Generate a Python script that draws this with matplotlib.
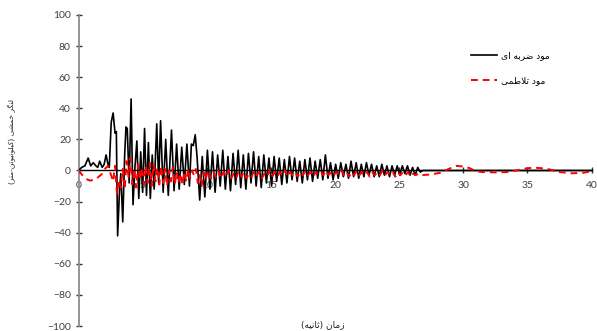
import matplotlib
matplotlib.use("Agg")
import matplotlib.pyplot as plt
import numpy as np

# ---------------- data ----------------
black_t = [0.0, 0.25, 0.5, 0.75, 0.95, 1.15, 1.35, 1.5, 1.65, 1.85, 2.0, 2.15, 2.3, 2.4,
           2.55, 2.7, 2.85, 2.95, 3.05, 3.2, 3.3, 3.45, 3.6, 3.7, 3.8, 3.95, 4.1, 4.25,
           4.4, 4.55, 4.7, 4.85, 5.0, 5.15, 5.3, 5.45, 5.6, 5.75, 5.9, 6.1, 6.25, 6.4,
           6.6, 6.8, 7.0, 7.25, 7.45, 7.65, 7.85, 8.05, 8.25, 8.45, 8.65, 8.8, 8.95, 9.1,
           9.25, 9.45, 9.65, 9.85, 10.05, 10.25, 10.45, 10.65, 10.85, 11.05, 11.25, 11.45,
           11.65, 11.85, 12.05, 12.25, 12.45, 12.65, 12.85, 13.05, 13.25, 13.45, 13.65,
           13.85, 14.05, 14.25, 14.45, 14.65, 14.85, 15.05, 15.25, 15.45, 15.65, 15.85,
           16.05, 16.25, 16.45, 16.65, 16.85, 17.05, 17.25, 17.45, 17.65, 17.85, 18.05,
           18.25, 18.45, 18.65, 18.85, 19.05, 19.25, 19.45, 19.65, 19.85, 20.05, 20.25,
           20.45, 20.65, 20.85, 21.05, 21.25, 21.45, 21.65, 21.85, 22.05, 22.25, 22.45,
           22.65, 22.85, 23.05, 23.25, 23.45, 23.65, 23.85, 24.05, 24.25, 24.45, 24.65,
           24.85, 25.05, 25.25, 25.45, 25.65, 25.85, 26.05, 26.25, 26.45, 26.65, 26.85,
           40.0]
black_v = [0, 2, 3, 8, 3, 5, 3, 2, 6, 2, 4, 10, 4, 2,
           31, 37, 24, 25, -42, -12, -2, -33, 10, 28, 27, -8, 46, -22,
           2, 19, -18, 12, -14, 27, -16, 18, -18, 10, -12, 30, -8, 32,
           -14, 20, -16, 26, -13, 17, -12, 15, -9, 17, -10, 17, 16, 23,
           8, -19, 9, -17, 13, -12, 12, -14, 10, -10, 13, -12,
           9, -13, 11, -9, 13, -11, 10, -12, 11, -8, 12,
           -10, 9, -11, 10, -8, 8, -10, 9, -7, 8, -9,
           7, -8, 9, -6, 8, -7, 6, -8, 7, -6, 8,
           -7, 6, -5, 7, -6, 10, -5, 5, -6, 4, -5,
           5, -4, 4, -5, 6, -4, 5, -5, 4, -4, 5,
           -3, 4, -4, 3, -4, 4, -3, 3, -4, 3, -3,
           3, -3, 3, -2, 3, -3, 2, -3, 2, -1, 0,
           0]

red_t = [0.0, 0.3, 0.6, 0.9, 1.2, 1.5, 1.8, 2.05, 2.3, 2.5, 2.7, 2.85, 3.0, 3.15, 3.3,
         3.45, 3.6, 3.75, 3.9, 4.05, 4.2, 4.35, 4.5, 4.65, 4.8, 4.95, 5.1, 5.25, 5.4,
         5.55, 5.7, 5.85, 6.0, 6.15, 6.3, 6.45, 6.6, 6.75, 6.9, 7.05, 7.2, 7.35, 7.5,
         7.65, 7.8, 7.95, 8.1, 8.25, 8.4, 8.55, 8.7, 8.85, 9.0, 9.15, 9.3, 9.45, 9.6,
         9.75, 9.9, 10.1, 10.3, 10.5, 10.7, 10.9, 11.1, 11.3, 11.5, 11.7, 11.9, 12.1,
         12.3, 12.5, 12.7, 12.9, 13.1, 13.3, 13.5, 13.7, 13.9, 14.1, 14.3, 14.5, 14.7,
         14.9, 15.1, 15.3, 15.5, 15.7, 15.9, 16.1, 16.3, 16.5, 16.7, 16.9, 17.1, 17.3,
         17.5, 17.7, 17.9, 18.1, 18.3, 18.5, 18.7, 18.9, 19.1, 19.3, 19.5, 19.7, 19.9,
         20.1, 20.3, 20.5, 20.7, 20.9, 21.1, 21.3, 21.5, 21.7, 21.9, 22.1, 22.3, 22.5,
         22.7, 22.9, 23.1, 23.3, 23.5, 23.7, 23.9, 24.1, 24.3, 24.5, 24.7, 24.9, 25.1,
         25.3, 25.5, 25.7, 25.9, 26.1, 26.3, 26.5, 26.8, 27.5, 28.2, 29.0, 29.5, 30.0,
         30.5, 31.0, 31.5, 32.5, 33.5, 34.3, 35.0, 35.6, 36.5, 37.5, 38.5, 39.3, 40.0]
red_v = [0, -3, -5.5, -6.5, -6, -4.5, -2.5, 1, 3, -2, -7, 3, -15, -6, -11,
         1, -12, 6, -4, 8, -9, 1, -11, 4, -6, 2, -9, 3, -8,
         5, -10, 4, -7, 2, -9, 3, -8, 1, -10, 0, -7, 2, -9,
         -1, -8, -2, -9, -1, -7, 1, -5, 0, -3, 1, -8, -3, -10,
         -1, -6, 0, -5, -1, -4, 0, -5, -1, -4, 0, -5, -2,
         -5, 0, -4, -1, -5, -2, -4, 0, -3, -1, -5, -2, -4,
         0, -4, -1, -4, -1, -3, 0, -4, -1, -3, -1, -4, -1,
         -3, 0, -3, -1, -4, -1, -3, -1, -3, 0, -3, -1, -3,
         -1, -3, 0, -3, -1, -4, -1, -3, 0, -3, -1, -3, -1,
         -4, -1, -3, -1, -3, 0, -3, -1, -3, -1, -4, -1, -3,
         -1, -3, -1, -4, -2, -3, -2, -3, -2.5, -1.5, 1.5, 3, 2.5,
         1.5, -0.5, -1, -1.2, -1, 0.3, 1.5, 1.8, 1.2, -1, -1.8, -1.5, -0.5]

x_ticks = [0, 5, 10, 15, 20, 25, 30, 35, 40]
y_ticks = [-100, -80, -60, -40, -20, 0, 20, 40, 60, 80, 100]

# Persian labels written in presentation forms (visual order)
label_black = "\uFEEF\uFE8D \uFEEA\uFE91\uFEAE\uFEBF \uFEA9\uFEEE\uFEE3"      # مود ضربه ای
label_red = "\uFEF0\uFEE4\uFEC3\uFEFC\uFE97 \uFEA9\uFEEE\uFEE3"               # مود تلاطمی
x_label = "(\uFEEA\uFEF4\uFEE7\uFE8E\uFE9B) \uFEE5\uFE8E\uFEE3\uFEAF"         # زمان (ثانیه)
y_label = ("(\uFEAE\uFE98\uFEE3-\uFEE6\uFE97\uFEEE\uFEF4\uFEE7\uFEEE\uFEE0\uFEF4\uFB90) "
           "\uFEF0\uFEB8\uFEE4\uFEA7 \uFEAE\uFB95\uFEE8\uFEDF")                # لنگر خمشی (کیلونیوتن-متر)

# ---------------- figure ----------------
fig = plt.figure(figsize=(5.97, 3.31), dpi=100)
ax = fig.add_axes([0.1315, 0.0151, 0.8593, 0.9396])

ax.plot(black_t, black_v, color="black", lw=1.2, label=label_black, zorder=3)
ax.plot(red_t, red_v, color="#ff0000", lw=1.4, ls=(0, (3.5, 2.5)), label=label_red, zorder=4)

ax.set_xlim(0, 40)
ax.set_ylim(-100, 100)
ax.set_xticks(x_ticks)
ax.set_yticks(y_ticks)

for s in ("top", "right"):
    ax.spines[s].set_visible(False)
ax.spines["bottom"].set_position(("data", 0))
ax.spines["bottom"].set_color("black")
ax.spines["bottom"].set_linewidth(1.0)
ax.spines["bottom"].set_zorder(2)
ax.spines["left"].set_color("#8c8c8c")
ax.spines["left"].set_linewidth(1.3)

tick_font = "Lato"
ax.tick_params(axis="both", direction="inout", length=5, width=1, color="#333333")
ax.tick_params(axis="x", pad=5, labelsize=7.5, labelcolor="#404040")
ax.tick_params(axis="y", pad=3, labelsize=7.5, labelcolor="#404040")
for lab in ax.get_xticklabels() + ax.get_yticklabels():
    lab.set_fontfamily(tick_font)

leg = ax.legend(loc="upper left", bbox_to_anchor=(0.75, 0.91), frameon=False,
                prop={"family": ["DejaVu Sans"], "size": 6.5},
                handlelength=2.8, handletextpad=0.5, labelspacing=1.8)

fig.text(12 / 597, 1 - 141 / 331, y_label, rotation=90, ha="center", va="center",
         fontsize=5.3, family=["DejaVu Sans"], color="#222222")
fig.text(323 / 597, 1 - 325 / 331, x_label, ha="center", va="center",
         fontsize=6.5, family=["DejaVu Sans"], color="#222222")

fig.savefig("out.png", dpi=100)
